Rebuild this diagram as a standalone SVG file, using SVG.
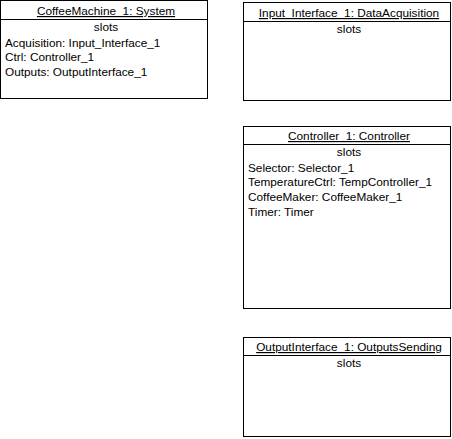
<svg xmlns="http://www.w3.org/2000/svg" width="452" height="439" viewBox="0 0 452 439">
<style>
.box{fill:#fff;stroke:#000;stroke-width:1}
.sep{stroke:#000;stroke-width:1}
text{font-family:"Liberation Sans",Arial,sans-serif;font-size:11.8px;fill:#000}
.t{text-anchor:middle;text-decoration:underline;text-decoration-color:#666}
.c{text-anchor:middle}
</style>
<rect width="452" height="439" fill="#fff"/>
<g id="CoffeeMachine_1">
<rect class="box" x="0.5" y="0.5" width="207" height="98"/>
<line class="sep" x1="0.5" y1="19.5" x2="207.5" y2="19.5"/>
<text class="t" x="106" y="15">CoffeeMachine_1: System</text>
<text class="c" x="106" y="31">slots</text>
<text x="5" y="47">Acquisition: Input_Interface_1</text>
<text x="5" y="61">Ctrl: Controller_1</text>
<text x="5" y="76">Outputs: OutputInterface_1</text>
</g>
<g id="Input_Interface_1">
<rect class="box" x="243.5" y="2.5" width="207" height="98"/>
<line class="sep" x1="243.5" y1="21.5" x2="450.5" y2="21.5"/>
<text class="t" x="349" y="17">Input_Interface_1: DataAcquisition</text>
<text class="c" x="349" y="33">slots</text>
</g>
<g id="Controller_1">
<rect class="box" x="243.5" y="126.5" width="207" height="182"/>
<line class="sep" x1="243.5" y1="144.5" x2="450.5" y2="144.5"/>
<text class="t" x="349" y="140">Controller_1: Controller</text>
<text class="c" x="349" y="156">slots</text>
<text x="248" y="172">Selector: Selector_1</text>
<text x="248" y="186">TemperatureCtrl: TempController_1</text>
<text x="248" y="201">CoffeeMaker: CoffeeMaker_1</text>
<text x="248" y="216">Timer: Timer</text>
</g>
<g id="OutputInterface_1">
<rect class="box" x="243.5" y="337.5" width="207" height="99"/>
<line class="sep" x1="243.5" y1="355.5" x2="450.5" y2="355.5"/>
<text class="t" x="349" y="351">OutputInterface_1: OutputsSending</text>
<text class="c" x="349" y="367">slots</text>
</g>
<g id="connectors"/>
</svg>
